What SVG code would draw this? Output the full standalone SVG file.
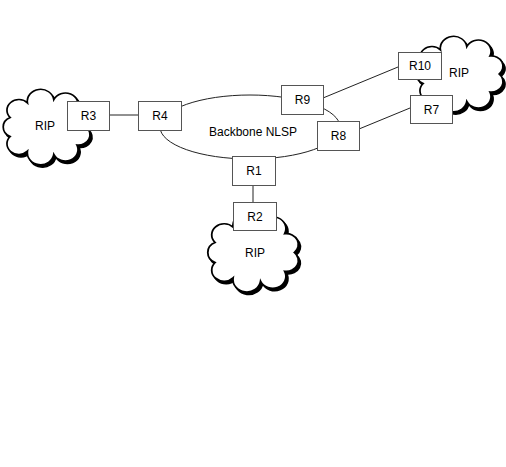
<svg xmlns="http://www.w3.org/2000/svg" width="506" height="467" viewBox="0 0 506 467">
<style>
.box{fill:#fff;stroke:#555;stroke-width:1}
.lbl{font-family:"Liberation Sans",Arial,sans-serif;font-size:12px;fill:#000;text-anchor:middle}
.ln{fill:none;stroke:#222;stroke-width:1}
.cl{fill:#fff;stroke:#000;stroke-width:1.5;vector-effect:non-scaling-stroke}
.sh{fill:#000;stroke:#000;stroke-width:1.5;vector-effect:non-scaling-stroke}
</style>
<defs>
<path id="cloud" d="M -32,-9.2 A 10 10 0 0 1 -17,-23.4 A 10 10 0 0 1 5.9,-26.6 A 10 10 0 0 1 26,-17.4 A 10 10 0 0 1 34,0 A 10 10 0 0 1 26,17.4 A 10 10 0 0 1 5.9,26.6 A 10 10 0 0 1 -17,23.4 A 10 10 0 0 1 -32,9.2 A 10 10 0 0 1 -32,-9.2 Z"/>
</defs>
<rect width="506" height="467" fill="#fff"/>
<g id="cloud-left">
<use href="#cloud" class="sh" transform="translate(49,129.5) scale(1.15,1.03)"/>
<use href="#cloud" class="cl" transform="translate(47,127) scale(1.15,1.03)"/>
<text class="lbl" x="45" y="130">RIP</text>
</g>
<g id="cloud-right">
<use href="#cloud" class="sh" transform="translate(462,76.5) scale(1.15,1.03)"/>
<use href="#cloud" class="cl" transform="translate(460,74) scale(1.15,1.03)"/>
<text class="lbl" x="459" y="77">RIP</text>
</g>
<g id="cloud-bottom">
<use href="#cloud" class="sh" transform="translate(255.5,255) scale(1.2,1.08)"/>
<use href="#cloud" class="cl" transform="translate(253.5,252.5) scale(1.2,1.08)"/>
<text class="lbl" x="255" y="257">RIP</text>
</g>
<g id="connectors">
<ellipse class="ln" cx="250" cy="127" rx="90" ry="32"/>
<line class="ln" x1="109" y1="115" x2="138" y2="115"/>
<line class="ln" x1="323" y1="98" x2="398" y2="67"/>
<line class="ln" x1="359" y1="129" x2="410" y2="108"/>
<line class="ln" x1="253" y1="185" x2="253" y2="202"/>
</g>
<text class="lbl" x="253" y="136">Backbone NLSP</text>
<g id="R3"><rect class="box" x="67.5" y="101.5" width="42" height="29"/><text class="lbl" x="88.5" y="120">R3</text></g>
<g id="R4"><rect class="box" x="138.5" y="101.5" width="43" height="29"/><text class="lbl" x="160" y="120">R4</text></g>
<g id="R9"><rect class="box" x="281.5" y="85.5" width="42" height="29"/><text class="lbl" x="302.5" y="104">R9</text></g>
<g id="R8"><rect class="box" x="317.5" y="121.5" width="42" height="29"/><text class="lbl" x="338.5" y="140">R8</text></g>
<g id="R1"><rect class="box" x="232.5" y="156.5" width="43" height="29"/><text class="lbl" x="254" y="175">R1</text></g>
<g id="R2"><rect class="box" x="233.5" y="202.5" width="43" height="28"/><text class="lbl" x="255" y="221">R2</text></g>
<g id="R10"><rect class="box" x="398.5" y="52.5" width="43" height="27"/><text class="lbl" x="420" y="70">R10</text></g>
<g id="R7"><rect class="box" x="410.5" y="95.5" width="42" height="28"/><text class="lbl" x="431.5" y="114">R7</text></g>
</svg>
